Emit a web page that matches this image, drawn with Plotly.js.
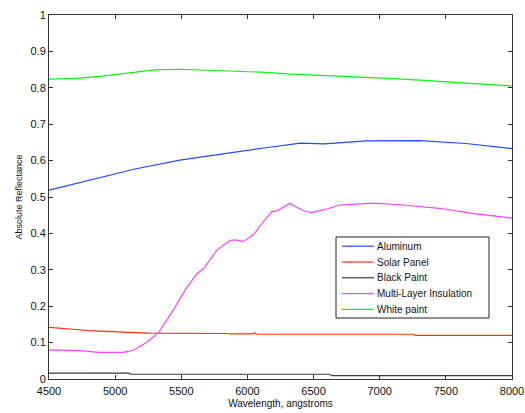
<!DOCTYPE html>
<html>
<head>
<meta charset="utf-8">
<script src="https://cdn.plot.ly/plotly-3.0.1.min.js"></script>
<style>html,body{margin:0;padding:0;background:#fff;}#chart{width:525px;height:413px;}</style>
</head>
<body>
<div id="chart"></div>
<script>
// Series names and colors
const seriesNames = ["Aluminum", "Solar Panel", "Black Paint", "Multi-Layer Insulation", "White paint"];
const seriesColors = ["#1f4cff", "#ff3010", "#3a3a3a", "#ff40ff", "#11ee11"];

// Aluminum
const alumWl  = [4500, 4820, 5150, 5500, 5830, 6150, 6400, 6580, 6900, 7300, 7650, 8000];
const alumRef = [0.519, 0.547, 0.577, 0.602, 0.620, 0.636, 0.648, 0.646, 0.654, 0.655, 0.647, 0.633];

// Solar Panel
const solarWl  = [4500, 4550, 4700, 4800, 5000, 5250, 5850, 5870, 6040, 6055, 6070, 7250, 7270, 8000];
const solarRef = [0.142, 0.140, 0.136, 0.133, 0.129, 0.126, 0.125, 0.124, 0.124, 0.127, 0.123, 0.123, 0.120, 0.120];

// Black Paint
const blackWl  = [4500, 5100, 5120, 6620, 6640, 8000];
const blackRef = [0.016, 0.016, 0.013, 0.013, 0.009, 0.009];

// Multi-Layer Insulation
const mliWl  = [4500, 4730, 4880, 5060, 5140, 5240, 5330, 5440, 5530, 5620, 5670, 5770, 5870, 5910, 5970, 6045, 6120, 6185, 6225, 6320, 6420, 6480, 6600, 6700, 6950, 7180, 7450, 7700, 8000];
const mliRef = [0.080, 0.078, 0.073, 0.073, 0.079, 0.101, 0.128, 0.190, 0.245, 0.290, 0.304, 0.354, 0.381, 0.382, 0.378, 0.396, 0.432, 0.460, 0.462, 0.482, 0.463, 0.457, 0.467, 0.478, 0.483, 0.478, 0.469, 0.455, 0.442];

// White paint
const whiteWl  = [4500, 4700, 4900, 5100, 5300, 5500, 5700, 5900, 6100, 6300, 6500, 6700, 6900, 7100, 7300, 7500, 7700, 7900, 8000];
const whiteRef = [0.824, 0.826, 0.832, 0.841, 0.849, 0.851, 0.849, 0.846, 0.843, 0.838, 0.835, 0.833, 0.829, 0.825, 0.821, 0.817, 0.813, 0.808, 0.805];

// Tick labels
const xTickVals = [4500, 5000, 5500, 6000, 6500, 7000, 7500, 8000];
const yTickVals = [0, 0.1, 0.2, 0.3, 0.4, 0.5, 0.6, 0.7, 0.8, 0.9, 1];
const yTickText = ["0", "0.1", "0.2", "0.3", "0.4", "0.5", "0.6", "0.7", "0.8", "0.9", "1"];

const xs = [alumWl, solarWl, blackWl, mliWl, whiteWl];
const ys = [alumRef, solarRef, blackRef, mliRef, whiteRef];

const traces = seriesNames.map((n, i) => ({
  x: xs[i], y: ys[i], name: n, type: "scatter", mode: "lines",
  line: {color: seriesColors[i], width: 1.2}, showlegend: false
}));

const font = {family: "Liberation Sans, Arial, sans-serif", color: "#111"};

// Custom legend box (paper coordinates), compact like the reference
const plotL = 49, plotT = 15, plotW = 463, plotH = 364;
const px2x = p => (p - plotL) / plotW;
const py2y = p => (plotT + plotH - p) / plotH;
const shapes = [{
  type: "rect", xref: "paper", yref: "paper",
  x0: px2x(336), x1: px2x(489), y0: py2y(318), y1: py2y(237),
  line: {color: "#222", width: 1}, fillcolor: "#fff", layer: "above"
}];
const annotations = [];
seriesNames.forEach((n, i) => {
  const rowY = 246.2 + i * 15.8;
  shapes.push({
    type: "line", xref: "paper", yref: "paper",
    x0: px2x(342), x1: px2x(374), y0: py2y(rowY), y1: py2y(rowY),
    line: {color: seriesColors[i], width: 1.2}, layer: "above"
  });
  annotations.push({
    xref: "paper", yref: "paper", x: px2x(375), y: py2y(rowY),
    xanchor: "left", yanchor: "middle", showarrow: false, text: n,
    font: Object.assign({size: 10}, font)
  });
});

const layout = {
  width: 525, height: 413,
  margin: {l: 49, r: 13, t: 15, b: 34},
  paper_bgcolor: "#fff", plot_bgcolor: "#fff",
  font: Object.assign({size: 11}, font),
  showlegend: false,
  shapes: shapes,
  annotations: annotations,
  xaxis: {
    range: [4500, 8000], tickvals: xTickVals,
    ticks: "inside", ticklen: 4, tickcolor: "#333",
    showline: true, linecolor: "#333", linewidth: 1, mirror: "ticks",
    showgrid: false, zeroline: false, ticklabelstandoff: 2,
    tickfont: Object.assign({size: 11}, font),
    title: {text: "Wavelength, angstroms", font: Object.assign({size: 10}, font), standoff: 3}
  },
  yaxis: {
    range: [0, 1], tickvals: yTickVals, ticktext: yTickText,
    ticks: "inside", ticklen: 4, tickcolor: "#333",
    showline: true, linecolor: "#333", linewidth: 1, mirror: "ticks",
    showgrid: false, zeroline: false,
    tickfont: Object.assign({size: 11}, font),
    title: {text: "Absolute Reflectance", font: Object.assign({size: 9}, font), standoff: 6}
  }
};

Plotly.newPlot("chart", traces, layout, {displayModeBar: false, staticPlot: true});
</script>
</body>
</html>
